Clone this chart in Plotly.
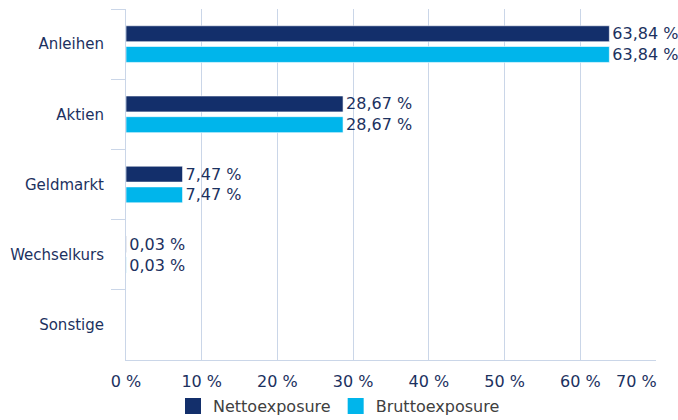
import plotly.graph_objects as go

categories = ["Anleihen", "Aktien", "Geldmarkt", "Wechselkurs", "Sonstige"]
netto = [63.84, 28.67, 7.47, 0.03, 0]
brutto = [63.84, 28.67, 7.47, 0.03, 0]
series_names = ["Nettoexposure", "Bruttoexposure"]
tick_vals = [0, 10, 20, 30, 40, 50, 60, 70]
tick_text = ["0 %", "10 %", "20 %", "30 %", "40 %", "50 %", "60 %", "70 %"]

NAVY = "#132f6b"
CYAN = "#00b5eb"
TXT = "#1c3160"
GRID = "#cad6e8"
FONT = "Verdana, DejaVu Sans, sans-serif"


def fmt(v):
    return (f"{v:.2f}".replace(".", ",") + " %") if v > 0 else ""


fig = go.Figure()
for name, vals, col in [(series_names[0], netto, NAVY), (series_names[1], brutto, CYAN)]:
    fig.add_trace(go.Bar(
        y=categories, x=vals, orientation="h", name=name,
        marker=dict(color=col, line=dict(color="white", width=0.6)),
        text=[fmt(v) for v in vals], textposition="outside",
        constraintext="none",
        textfont=dict(color=TXT, size=16, family=FONT),
        cliponaxis=False, showlegend=False,
    ))
    fig.add_trace(go.Scatter(
        x=[None], y=[None], mode="markers", name=name,
        marker=dict(symbol="square", size=16, color=col),
        showlegend=True,
    ))

# last tick label is drawn right-aligned to the 70 % gridline (as in the reference)
fig.add_annotation(
    x=tick_vals[-1], xref="x", y=0, yref="paper",
    text=tick_text[-1], showarrow=False,
    xanchor="right", yanchor="middle", xshift=3, yshift=-21,
    font=dict(size=16, color=TXT, family=FONT),
)

fig.update_layout(
    width=678, height=420,
    margin=dict(l=126, r=22, t=9, b=60),
    paper_bgcolor="white", plot_bgcolor="white",
    barmode="group", bargap=0.41, bargroupgap=0.23,
    font=dict(family=FONT, color=TXT, size=15),
    legend=dict(
        orientation="h", xref="container", yref="container",
        x=0.5, xanchor="center", y=0.033, yanchor="middle",
        font=dict(size=16, color="#404040", family=FONT),
        itemwidth=30, tracegroupgap=0,
    ),
)
fig.update_xaxes(
    range=[0, 70], tickvals=tick_vals[:-1], ticktext=tick_text[:-1],
    showgrid=True, gridcolor=GRID, gridwidth=1,
    showline=True, linecolor=GRID, linewidth=1,
    zeroline=False, ticks="", ticklabelstandoff=7, automargin=False,
    tickfont=dict(size=16, color=TXT, family=FONT),
)
fig.update_yaxes(
    autorange="reversed", type="category", automargin=False,
    showgrid=False, showline=True, linecolor=GRID, linewidth=1,
    ticks="outside", tickson="boundaries", ticklen=14, tickcolor=GRID,
    ticklabelstandoff=18,
    tickfont=dict(size=15, color=TXT, family=FONT),
)

fig.write_html("out.html", config={"displayModeBar": False},
               post_script="document.body.style.margin='0';")
